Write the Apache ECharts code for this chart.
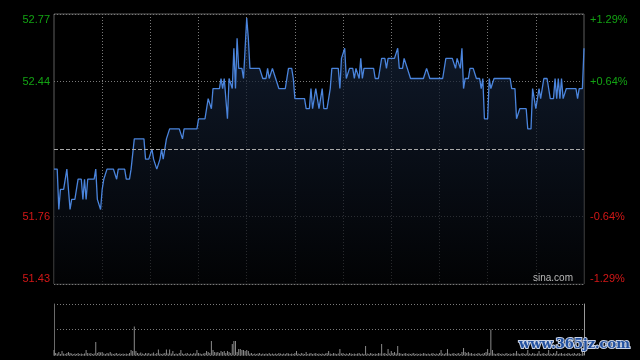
<!DOCTYPE html>
<html>
<head>
<meta charset="utf-8">
<script src="https://cdn.jsdelivr.net/npm/echarts@6/dist/echarts.min.js"></script>
<style>
html,body{margin:0;padding:0;background:#000;}
#c{width:640px;height:360px;}
</style>
</head>
<body>
<div id="c"></div>
<script>
// ---- data ----
const prevClose = 52.10;
const prices = [
52.00,52.00,52.00,51.80,51.90,51.90,51.90,51.90,52.00,52.00,
51.80,51.85,51.85,51.85,51.85,51.95,51.95,51.95,51.85,51.95,
51.85,51.95,51.95,51.95,51.95,51.95,52.00,51.85,51.85,51.80,
51.90,51.95,51.95,52.00,52.00,52.00,52.00,52.00,52.00,51.95,
52.00,52.00,52.00,52.00,52.00,51.95,51.95,51.95,52.00,52.00,
52.15,52.15,52.15,52.15,52.15,52.15,52.15,52.05,52.05,52.05,
52.05,52.10,52.05,52.05,52.00,52.00,52.05,52.10,52.05,52.05,
52.15,52.15,52.20,52.20,52.20,52.20,52.20,52.20,52.20,52.20,
52.15,52.20,52.20,52.20,52.20,52.20,52.20,52.20,52.20,52.20,
52.25,52.25,52.25,52.25,52.25,52.25,52.35,52.35,52.30,52.40,
52.40,52.40,52.40,52.40,52.45,52.40,52.45,52.45,52.25,52.45,
52.45,52.40,52.60,52.40,52.65,52.50,52.50,52.50,52.45,52.60,
52.75,52.65,52.50,52.50,52.50,52.50,52.50,52.50,52.50,52.50,
52.45,52.45,52.45,52.50,52.45,52.45,52.50,52.50,52.45,52.45,
52.40,52.40,52.40,52.40,52.40,52.40,52.50,52.50,52.50,52.45,
52.35,52.35,52.35,52.35,52.35,52.35,52.35,52.30,52.30,52.30,
52.40,52.30,52.30,52.40,52.40,52.30,52.30,52.40,52.30,52.30,
52.30,52.35,52.40,52.50,52.50,52.50,52.50,52.50,52.40,52.55,
52.55,52.60,52.45,52.45,52.50,52.50,52.50,52.45,52.50,52.50,
52.45,52.55,52.45,52.50,52.50,52.50,52.50,52.50,52.50,52.50,
52.45,52.45,52.45,52.45,52.55,52.55,52.55,52.50,52.55,52.55,
52.55,52.55,52.55,52.55,52.60,52.50,52.50,52.50,52.55,52.55,
52.50,52.50,52.45,52.45,52.45,52.45,52.45,52.45,52.45,52.45,
52.45,52.45,52.50,52.50,52.45,52.45,52.45,52.45,52.45,52.45,
52.45,52.45,52.45,52.45,52.55,52.55,52.55,52.55,52.55,52.55,
52.50,52.55,52.55,52.50,52.60,52.40,52.45,52.45,52.45,52.50,
52.50,52.50,52.50,52.45,52.45,52.45,52.40,52.45,52.25,52.25,
52.25,52.45,52.40,52.40,52.45,52.45,52.45,52.45,52.45,52.45,
52.45,52.45,52.45,52.45,52.45,52.40,52.40,52.40,52.25,52.25,
52.30,52.30,52.30,52.30,52.30,52.20,52.20,52.20,52.40,52.40,
52.30,52.30,52.40,52.35,52.35,52.45,52.45,52.45,52.45,52.35,
52.35,52.35,52.45,52.35,52.45,52.35,52.45,52.35,52.35,52.40,
52.40,52.40,52.40,52.40,52.40,52.40,52.35,52.40,52.40,52.40,
52.60
];
// volume, thousand shares
const volumes = [
10,4,3,6,2,8,3,2,4,6,
4,3,2,3,2,4,2,3,2,3,
10,4,3,4,2,3,26,4,6,5,
6,3,2,4,3,6,3,2,3,4,
2,3,2,3,2,3,2,4,10,8,
57,8,4,3,5,3,2,4,3,4,
2,3,5,2,4,11,3,2,3,4,
11,3,11,3,8,2,3,2,4,10,
3,2,3,4,2,3,2,4,3,10,
4,3,2,3,4,8,6,4,28,10,
6,5,6,4,8,6,8,4,8,6,
4,22,28,28,6,12,12,10,10,8,
10,8,3,4,2,3,2,3,4,2,
3,2,3,2,4,2,3,2,3,2,
4,3,2,3,2,4,3,2,3,2,
4,8,3,2,4,3,2,6,2,3,
4,2,3,4,2,3,2,3,2,3,
4,8,3,2,4,3,2,3,12,3,
4,2,3,2,4,3,2,3,2,3,
4,2,3,2,18,3,2,4,3,2,
3,2,4,3,22,3,4,2,12,3,
8,4,6,3,18,4,3,2,3,4,
2,3,2,3,4,2,3,2,3,2,
4,3,2,3,2,3,4,2,3,2,
4,10,3,2,4,12,3,2,3,4,
2,3,4,2,6,14,6,4,6,3,
4,2,3,2,4,3,2,3,4,6,
12,4,51,10,3,2,3,4,2,3,
2,3,4,2,3,2,4,3,8,3,
2,3,4,2,3,10,3,2,4,3,
2,3,8,2,3,4,2,3,10,3,
2,4,3,8,2,3,4,2,3,2,
4,3,2,3,4,2,3,4,2,6,
4
];
const leftTickLabels = ['51.43', '51.76', '', '52.44', '52.77'];
const rightTickLabels = ['-1.29%', '-0.64%', '', '+0.64%', '+1.29%'];
const devMin = -67, devMax = 67, devStep = 33.5; // price deviation from prev close, in cents

// time categories (HK session 09:30-12:00, 13:01-16:00)
function hm(m){const h=Math.floor(m/60),mm=m%60;return (h<10?'0':'')+h+':'+(mm<10?'0':'')+mm;}
const times = [];
for (let m = 570; m <= 720; m++) times.push(hm(m));
for (let m = 781; m <= 960; m++) times.push(hm(m));

const devData = prices.map(p => Math.round((p - prevClose) * 10000) / 100);

const UP = '#13a313', DOWN = '#d41717';
const FONT = '"Liberation Sans", Arial, sans-serif';
function tickIdx(v){ return Math.round((Number(v) - devMin) / devStep); }

const chart = echarts.init(document.getElementById('c'), null, {renderer: 'canvas'});
chart.setOption({
  backgroundColor: '#000',
  animation: false,
  grid: [
    {left: 54, right: 56, top: 14, height: 270, show: true, borderColor: '#5e5e5e', borderWidth: 1, backgroundColor: 'transparent'},
    {left: 54, right: 56, top: 304, height: 51}
  ],
  xAxis: [
    {type: 'category', gridIndex: 0, data: times, boundaryGap: false,
     axisLine: {show: false}, axisTick: {show: false}, axisLabel: {show: false},
     splitLine: {show: true, interval: (i) => i > 0 && i < 330 && i % 30 === 0,
                 lineStyle: {color: '#7a7a7a', type: [1, 2], width: 1}}},
    {type: 'category', gridIndex: 1, data: times, boundaryGap: false,
     axisLine: {show: true, lineStyle: {color: '#6a6a6a', type: [1, 2]}}, axisTick: {show: false}, axisLabel: {show: false},
     splitLine: {show: false}}
  ],
  yAxis: [
    {type: 'value', gridIndex: 0, min: devMin, max: devMax, interval: devStep, position: 'left',
     axisLine: {show: false}, axisTick: {show: false},
     splitLine: {show: true, lineStyle: {color: '#7a7a7a', type: [1, 2], width: 1}},
     axisLabel: {fontSize: 11, fontFamily: FONT, margin: 4,
       formatter: (v) => leftTickLabels[tickIdx(v)] || '',
       color: (v) => Number(v) > 0 ? UP : DOWN,
       verticalAlignMinLabel: 'bottom', verticalAlignMaxLabel: 'top'}},
    {type: 'value', gridIndex: 0, min: devMin, max: devMax, interval: devStep, position: 'right',
     axisLine: {show: false}, axisTick: {show: false}, splitLine: {show: false},
     axisLabel: {fontSize: 11, fontFamily: FONT, margin: 6,
       formatter: (v) => rightTickLabels[tickIdx(v)] || '',
       color: (v) => Number(v) > 0 ? UP : DOWN,
       verticalAlignMinLabel: 'bottom', verticalAlignMaxLabel: 'top'}},
    {type: 'value', gridIndex: 1, min: 0, max: 102, interval: 51, position: 'left',
     axisLine: {show: true, lineStyle: {color: '#6a6a6a'}}, axisTick: {show: false}, axisLabel: {show: false},
     splitLine: {show: true, lineStyle: {color: '#7a7a7a', type: [1, 2]}}},
    {type: 'value', gridIndex: 1, min: 0, max: 102, interval: 51, position: 'right',
     axisLine: {show: true, lineStyle: {color: '#9a9a9a'}}, axisTick: {show: false}, axisLabel: {show: false},
     splitLine: {show: false}}
  ],
  series: [
    {type: 'line', xAxisIndex: 0, yAxisIndex: 0, data: devData, symbol: 'none', smooth: false,
     lineStyle: {color: '#4a84dc', width: 1.3},
     areaStyle: {origin: 'start', color: new echarts.graphic.LinearGradient(0, 0, 0, 1, [
       {offset: 0, color: '#17263f'}, {offset: 1, color: '#030406'}])},
     markLine: {silent: true, symbol: 'none', label: {show: false},
       lineStyle: {color: '#a8a8a8', type: [4, 2], width: 1},
       data: [{yAxis: 0}]},
     z: 3},
    {type: 'bar', xAxisIndex: 1, yAxisIndex: 2, data: volumes, barWidth: 1,
     itemStyle: {color: '#8a8a8a'}}
  ],
  graphic: [
    {type: 'text', right: 67, top: 273, style: {text: 'sina.com', fill: '#b8b8b8', font: '10px ' + FONT}, z: 100},
    {type: 'text', left: 518, top: 337, style: {text: 'www.365jz.com', fill: '#22509f',
      stroke: '#c8d2e6', lineWidth: 2, font: 'bold 13px "DejaVu Serif", serif'}, z: 100}
  ]
});
</script>
</body>
</html>
